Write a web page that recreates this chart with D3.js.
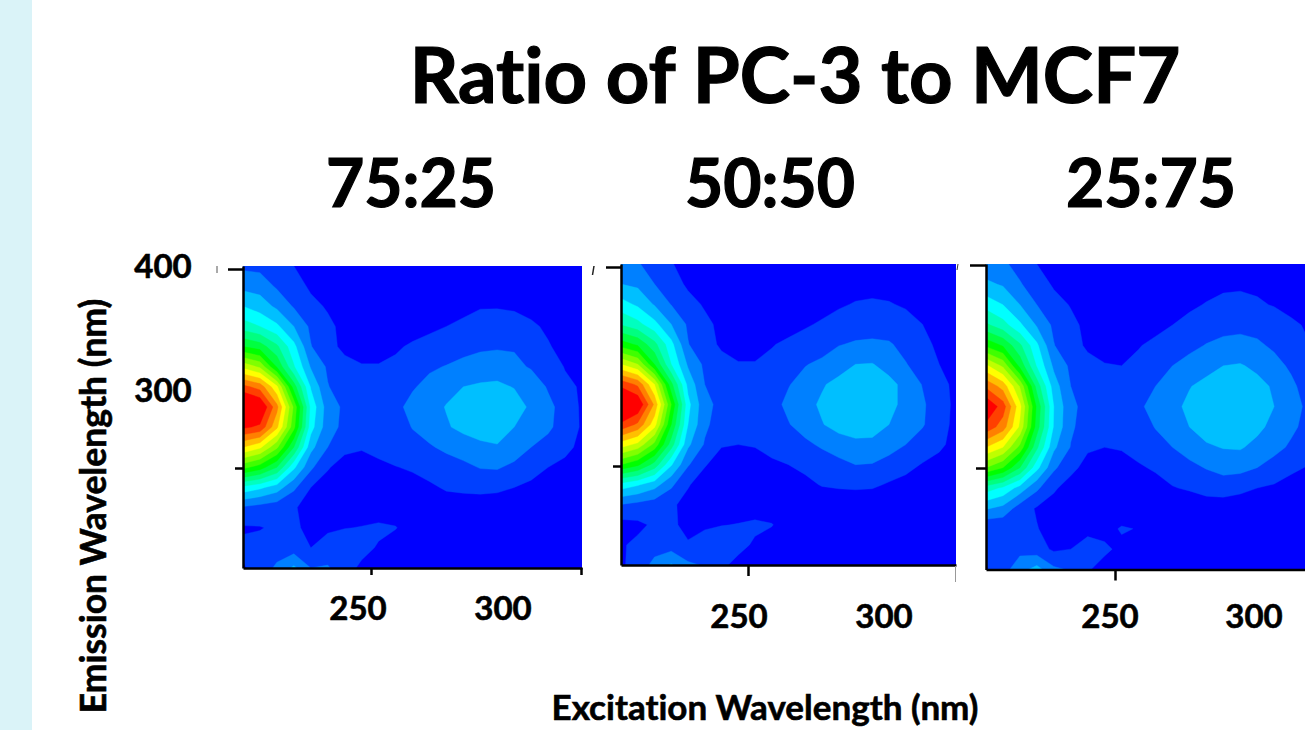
<!DOCTYPE html>
<html><head><meta charset="utf-8">
<script src="https://cdn.jsdelivr.net/npm/d3@7"></script>
<style>html,body{margin:0;padding:0;background:#fff;overflow:hidden}svg{display:block}text{font-family:Lato,"Open Sans",sans-serif;font-weight:700;fill:#000;stroke:#000;stroke-width:.6px;font-variant-ligatures:none;font-feature-settings:"liga" 0}</style>
</head><body><svg id="c" width="1305" height="730"></svg>
<script>
const titleText = "Ratio of PC-3 to MCF7";
const ratioLabels = ["75:25","50:50","25:75"];
const xTickValues = [250,300];
const yTickValues = [400,300];
const xTitle = "Excitation Wavelength (nm)";
const yTitle = "Emission Wavelength (nm)";
const levelColors = ["#0000ff","#0040ff","#0080ff","#00bfff","#00ffff","#00ffbf","#00ff80","#00ff40","#00ff00","#40ff00","#80ff00","#bfff00","#ffff00","#ffbf00","#ff8000","#ff4000","#ff0000"];
const gridA = [
[1.8,1.7,1.4,1.0,.7,.4,.2,.1,.1,.1,.1,.1,.1,.1,.1,.1,.1,.1,.1,.1,.1],
[2.7,2.6,1.85,1.4,.85,.6,.4,.3,.2,.2,.2,.3,.4,.5,.6,.6,.6,.5,.4,.3,.2],
[4.0,3.5,2.8,1.9,1.25,.9,.6,.4,.3,.3,.4,.5,.65,.8,.95,.95,.9,.8,.6,.45,.3],
[5.5,5.0,4.2,3.0,1.8,1.2,.75,.5,.4,.45,.7,.85,1.0,1.15,1.3,1.35,1.3,1.1,.9,.7,.5],
[8,7.5,6.2,4.3,2.05,1.2,.85,.7,.7,.9,1.1,1.25,1.4,1.7,1.85,1.9,1.9,1.55,1.05,.8,.6],
[11.7,10.8,7.9,5.1,2.9,1.85,1.2,1.05,1.05,1.15,1.4,1.85,2.05,2.25,2.4,2.5,2.25,1.9,1.5,.95,.7],
[15.3,14.6,12.2,7.5,3.9,2.05,1.5,1.25,1.3,1.5,1.9,2.3,2.7,3.0,3.15,3.2,2.95,2.6,1.9,1.2,.9],
[18,17.2,14.3,9.8,4.7,2.5,1.8,1.6,1.55,1.75,2.3,2.65,3.05,3.4,3.65,3.65,3.5,2.8,2.25,1.6,.85],
[16.2,15.8,13.2,9.3,4.4,2.4,1.75,1.5,1.4,1.45,2.05,2.4,2.9,3.25,3.5,3.55,3.0,2.6,2.2,1.5,.9],
[13,12.2,10.2,7,3.3,2,1.15,1.05,1.2,1.4,1.6,1.9,2.2,2.5,2.75,2.9,2.6,2.0,1.6,1.2,.8],
[9.3,8.5,7,4.2,2.2,1.05,.75,.75,.85,.97,1.1,1.35,1.55,1.75,2.05,2.1,1.75,1.35,1.0,.8,.6],
[4.7,4.2,3.5,2.2,1.0,.75,.55,.5,.55,.6,.7,.85,1.1,1.2,1.25,1.2,1.0,.8,.7,.55,.4],
[1.85,1.6,1.4,1.05,.8,.6,.45,.4,.4,.45,.5,.55,.55,.5,.5,.45,.4,.4,.35,.3,.25],
[.9,.95,1.15,1.1,.85,.85,.95,1.05,1.2,1.05,.5,.4,.3,.2,.2,.2,.2,.2,.2,.2,.2],
[1.2,1.3,1.5,1.5,1.0,1.4,2.0,1.3,.9,.5,.3,.2,.2,.1,.1,.1,.1,.1,.1,.1,.1],
[.9,1.4,2.2,3.2,2.0,2.1,1.4,.8,.5,.3,.2,.1,.1,.1,.1,.1,.1,.1,.1,.1,.1]
];
const gridB = [
[2.3,2.1,1.5,1.05,.7,.4,.2,.1,.1,.1,.1,.1,.1,.1,.1,.1,.1,.1,.1,.1,.1],
[3.0,2.8,2.0,1.4,.85,.6,.4,.3,.2,.2,.2,.3,.45,.55,.7,.75,.7,.6,.4,.3,.2],
[4.4,3.8,2.9,1.95,1.3,.9,.6,.4,.3,.3,.4,.55,.7,.9,1.05,1.1,1.05,.9,.65,.45,.3],
[5.9,5.3,4.3,3.0,1.85,1.2,.8,.5,.4,.5,.7,.9,1.1,1.3,1.55,1.6,1.5,1.3,1.0,.75,.5],
[8.5,7.8,6.3,4.3,2.05,1.25,.9,.7,.7,.95,1.15,1.35,1.6,1.95,2.1,2.15,2.1,1.7,1.2,.85,.6],
[12,11,8,5,2.85,1.8,1.2,1.05,1.05,1.2,1.5,1.95,2.2,2.55,3.0,3.05,2.6,2.05,1.55,1.0,.7],
[15.7,14.8,12,7.3,3.7,2.0,1.45,1.25,1.3,1.5,1.95,2.35,2.9,3.3,3.55,3.6,3.3,2.7,1.95,1.2,.85],
[17.8,17,13.8,9,4.3,2.3,1.7,1.5,1.5,1.7,2.2,2.7,3.15,3.6,3.75,3.75,3.4,2.6,2.15,1.4,.8],
[15.8,14.8,12.4,8,4,2.2,1.5,1.25,1.25,1.4,1.95,2.4,2.95,3.35,3.55,3.45,3.0,2.5,2.1,1.3,.8],
[12.5,11.7,9.7,6.5,3.2,1.9,1.05,1.0,1.05,1.3,1.5,1.8,2.15,2.55,2.75,2.75,2.45,2.0,1.5,1.15,.75],
[9,8.2,6.6,4.1,2.1,1.05,.7,.6,.7,.85,1.0,1.2,1.45,1.7,2.0,1.95,1.6,1.25,.95,.75,.55],
[4.6,4.1,3.4,2.2,1.05,.7,.5,.45,.45,.55,.6,.8,1.05,1.15,1.2,1.15,.9,.75,.6,.5,.4],
[1.95,1.7,1.45,1.1,.8,.6,.45,.4,.4,.4,.45,.5,.45,.4,.4,.4,.4,.35,.3,.3,.25],
[.65,.8,1.15,1.1,.85,.85,.95,1.05,1.2,1.05,.5,.4,.3,.2,.2,.2,.2,.2,.2,.2,.2],
[.9,1.2,1.55,1.5,1.05,1.45,1.95,1.3,.85,.5,.3,.2,.2,.1,.1,.1,.1,.1,.1,.1,.1],
[.85,1.4,2.3,3.1,2.2,1.9,1.2,.7,.5,.3,.2,.1,.1,.1,.1,.1,.1,.1,.1,.1,.1]
];
const gridC = [
[2.4,2.2,1.6,1.0,.7,.4,.2,.1,.1,.1,.1,.1,.1,.1,.1,.1,.1,.1,.1,.1,.1],
[3.2,2.9,2.1,1.4,.9,.6,.4,.3,.2,.2,.3,.4,.55,.7,.85,.9,.85,.7,.5,.35,.25],
[4.6,4,3,2,1.3,.95,.6,.4,.3,.35,.45,.6,.85,1.05,1.2,1.2,1.1,.95,.75,.55,.4],
[6.2,5.4,4.2,2.9,1.8,1.2,.8,.5,.4,.5,.75,1.0,1.25,1.5,1.75,1.8,1.7,1.45,1.15,.9,.7],
[8.8,7.9,6.2,4.2,2.05,1.25,.9,.7,.7,.95,1.2,1.45,1.75,2.05,2.2,2.25,2.15,1.85,1.45,1.05,.85],
[12.2,10.8,7.7,4.9,2.8,1.8,1.2,1.05,1.0,1.2,1.6,2.0,2.35,2.65,3.0,3.1,2.75,2.3,1.85,1.25,1.0],
[14.8,13.6,10.9,6.6,3.5,2.0,1.45,1.25,1.3,1.6,2.0,2.45,2.95,3.3,3.6,3.65,3.35,2.85,2.2,1.6,1.15],
[17,15.5,12.3,7.8,4,2.2,1.7,1.5,1.5,1.85,2.3,2.75,3.2,3.65,3.8,3.8,3.55,3.0,2.3,1.85,1.2],
[15.7,14.5,11.8,7.5,3.9,2.15,1.55,1.3,1.3,1.5,2.05,2.5,3.0,3.45,3.65,3.65,3.25,2.7,2.2,1.7,1.15],
[13,12,9.7,6.2,3.2,1.95,1.1,1.0,1.05,1.3,1.6,2.0,2.4,2.85,3.05,3.1,2.7,2.3,1.85,1.35,1.05],
[10,9,7,4.3,2.2,1.2,.75,.6,.75,.9,1.1,1.4,1.75,2.05,2.3,2.3,2.0,1.6,1.15,.95,.75],
[5.5,4.8,3.6,2.2,1.1,.7,.5,.45,.5,.6,.7,.95,1.1,1.4,1.5,1.25,1.0,.85,.7,.55,.45],
[3.1,2.7,1.5,.9,.7,.5,.4,.35,.35,.35,.4,.4,.4,.4,.4,.4,.4,.35,.3,.3,.25],
[1.05,1.1,1.15,1.05,.6,.5,.5,.65,1.1,.95,.4,.3,.2,.2,.2,.2,.2,.2,.2,.2,.2],
[1.1,1.3,1.7,1.4,.85,1.0,1.8,1.2,.75,.4,.3,.2,.2,.1,.1,.1,.1,.1,.1,.1,.1],
[.9,1.6,2.6,3.4,2.2,1.9,1.1,.6,.4,.3,.2,.1,.1,.1,.1,.1,.1,.1,.1,.1,.1]
];
const grids = [gridA,gridB,gridC];
const panelXTicks = [[250,300],[250],[250]];
const frames = [
 {left:243,right:582,top:266,bottom:568,x250:371,x300:581,y400:269,y300:468,lx:[358,503],ly:620,tickIn:[15,8],xTick:7},
 {left:621,right:956,top:264,bottom:565,x250:748,x300:956,y400:267,y300:466,lx:[739,884],ly:628,tickIn:[15,8],xTick:11},
 {left:986,right:1325,top:264,bottom:569.5,x250:1115,x300:1325,y400:265,y300:468,lx:[1110,1254],ly:628,tickIn:[16,10],xTick:11}
];
const svg = d3.select("#c");
svg.append("rect").attr("width",32).attr("height",730).attr("fill","#daf3f8");
svg.append("text").attr("x",795).attr("y",103).attr("text-anchor","middle").attr("font-size",76).style("stroke-width","1.2px").text(titleText);
const ratioX=[411,770,1151];
svg.selectAll(".ratio").data(ratioLabels).join("text").attr("class","ratio")
 .attr("x",(d,i)=>ratioX[i]).attr("y",207).attr("text-anchor","middle").attr("font-size",66).style("stroke-width","1.2px").text(d=>d);

const levels = d3.range(0,levelColors.length);
frames.forEach((f,pi)=>{
  const grid = grids[pi], nr=grid.length, nc=grid[0].length;
  const x = d3.scaleLinear().domain([250,300]).range([f.x250,f.x300]);
  const y = d3.scaleLinear().domain([300,400]).range([f.y300,f.y400]);
  const colToEx = d3.scaleLinear().domain([0,nc-1]).range([x.invert(f.left),x.invert(f.right)]);
  const rowToEm = d3.scaleLinear().domain([0,nr-1]).range([y.invert(f.top),y.invert(f.bottom)]);
  const clamp=(v,m)=>Math.max(0,Math.min(m,v-0.5));
  const path = d3.geoPath(d3.geoTransform({point(px,py){
    this.stream.point(x(colToEx(clamp(px,nc-1))), y(rowToEm(clamp(py,nr-1))));
  }}));
  const contours = d3.contours().size([nc,nr]).smooth(true).thresholds(levels)(grid.flat());
  const clipId="clip"+pi;
  svg.append("clipPath").attr("id",clipId).append("rect").attr("x",f.left).attr("y",f.top).attr("width",f.right-f.left).attr("height",f.bottom-f.top);
  svg.append("g").attr("clip-path",`url(#${clipId})`).selectAll("path").data(contours).join("path")
    .attr("d",path).attr("fill",d=>levelColors[d.value]).attr("stroke",d=>levelColors[d.value]).attr("stroke-width",.4);
  const ax = svg.append("g").attr("transform",`translate(0,${f.bottom})`)
    .call(d3.axisBottom(x.copy().domain([x.invert(f.left),x.invert(f.right)]).range([f.left,f.right])).tickValues(panelXTicks[pi]).tickSize(f.xTick).tickSizeOuter(0).tickFormat(""));
  ax.selectAll("path,line").attr("stroke","#000").attr("stroke-width",2.5);
  const ay = svg.append("g").attr("transform",`translate(${f.left},0)`)
    .call(d3.axisLeft(y.copy().domain([y.invert(f.bottom),y.invert(f.top)]).range([f.bottom,f.top])).tickValues(yTickValues).tickSize(f.tickIn[1]).tickSizeOuter(0).tickFormat(""));
  ay.selectAll("path,line").attr("stroke","#000").attr("stroke-width",2.5);
  ay.selectAll(".tick").filter(d=>d===400).select("line").attr("x2",-f.tickIn[0]);
  svg.selectAll(".xl"+pi).data(xTickValues).join("text").attr("class","xl"+pi)
    .attr("x",(d,i)=>f.lx[i]).attr("y",f.ly).attr("text-anchor","middle").attr("font-size",33).text(d=>d);
});
// leftovers of the pasted source images
svg.append("line").attr("x1",955.5).attr("x2",955.5).attr("y1",566).attr("y2",582).attr("stroke","#999").attr("stroke-width",1);
svg.append("line").attr("x1",217).attr("x2",217).attr("y1",266).attr("y2",273).attr("stroke","#555").attr("stroke-width",1);
svg.append("line").attr("x1",594).attr("x2",592.5).attr("y1",266).attr("y2",275).attr("stroke","#222").attr("stroke-width",1.5);
svg.append("line").attr("x1",958).attr("x2",957).attr("y1",264).attr("y2",270).attr("stroke","#333").attr("stroke-width",1);
const yLabelY=[278,402];
svg.selectAll(".yl").data(yTickValues).join("text").attr("class","yl")
  .attr("x",163).attr("y",(d,i)=>yLabelY[i]).attr("text-anchor","middle").attr("font-size",33).text(d=>d);
svg.append("text").attr("x",765).attr("y",720).attr("text-anchor","middle").attr("font-size",35).text(xTitle);
svg.append("text").attr("transform","translate(106,506) rotate(-90)").attr("text-anchor","middle").attr("font-size",35.5).text(yTitle);
</script></body></html>
